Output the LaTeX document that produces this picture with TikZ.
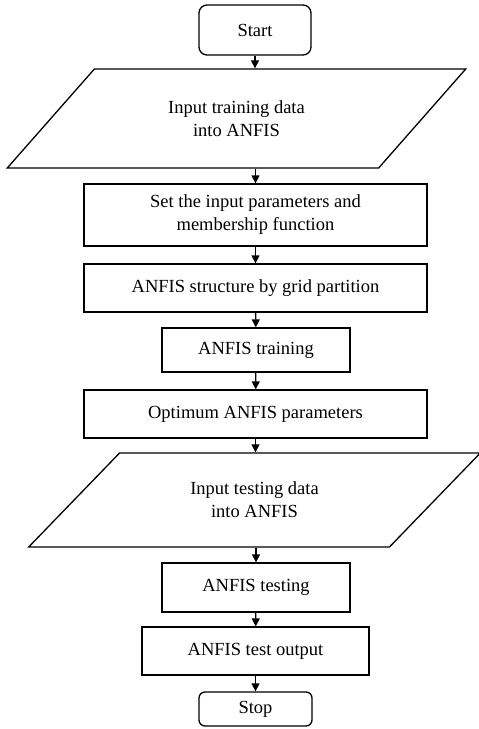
\documentclass[tikz,border=0pt]{standalone}
\usepackage{fontspec}
\setmainfont{Liberation Serif}
\usetikzlibrary{shapes.geometric,arrows.meta}

\tikzset{
  terminal/.style={draw, rounded corners=8pt, line width=1.3pt, minimum width=112pt, minimum height=50pt, inner sep=0pt},
  process/.style={draw, line width=1.3pt, align=center, inner sep=0pt, minimum width=343pt, minimum height=48pt},
  io/.style={draw, trapezium, trapezium stretches=true, line width=1.3pt, align=center, inner sep=0pt},
  flow/.style={line width=1.3pt, -{Triangle[length=8pt,width=8pt]}}
}

\begin{document}
\begin{tikzpicture}[x=1pt,y=-1pt,font=\fontsize{18.5}{23}\selectfont]
        \useasboundingbox (0,0) rectangle (479,729);
        \node[terminal] (start) at (255,30) {Start};
        \node[io, trapezium left angle=40.7, trapezium right angle=139.3, minimum width=459pt, minimum height=99pt] (train) at (236.5,118.5) {Input training data\\into ANFIS};
        \node[process, minimum height=62pt] (setpar) at (255.5,215) {Set the input parameters and\\membership function};
        \node[process] (grid) at (255.5,288) {ANFIS structure by grid partition};
        \node[process, minimum width=188pt, minimum height=44pt] (training) at (256,350) {ANFIS training};
        \node[process] (optim) at (255.5,414) {Optimum ANFIS parameters};
        \node[io, trapezium left angle=39.8, trapezium right angle=140.2, minimum width=453pt, minimum height=94pt] (test) at (254.5,500) {Input testing data\\into ANFIS};
        \node[process, minimum width=188pt, minimum height=49pt] (testing) at (256,587.5) {ANFIS testing};
        \node[process, minimum width=227pt] (testout) at (255.5,651) {ANFIS test output};
        \node[terminal, rounded corners=6pt, minimum width=113pt, minimum height=34pt] (stop) at (255.5,709) {Stop};
        % arrows
        \draw[flow] (start.south) -- (start.south |- train.north);
        \draw[flow] (train.south -| setpar.north) -- (setpar.north);
        \draw[flow] (setpar) -- (grid);
        \draw[flow] (grid) -- (training);
        \draw[flow] (training) -- (optim);
        \draw[flow] (optim.south) -- (optim.south |- test.north);
        \draw[flow] (test.south -| testing.north) -- (testing.north);
        \draw[flow] (testing) -- (testout);
        \draw[flow] (testout) -- (stop);
\end{tikzpicture}
\end{document}
